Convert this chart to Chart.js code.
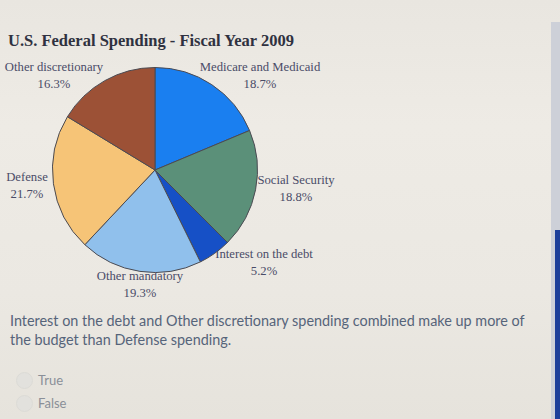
<!DOCTYPE html>
<html>
<head>
<meta charset="utf-8">
<script src="https://cdn.jsdelivr.net/npm/chart.js@4"></script>
<style>
  html, body { margin: 0; padding: 0; }
  body {
    width: 560px; height: 419px; overflow: hidden; position: relative;
    background: linear-gradient(180deg, #e9e6e0 0%, #eeebe5 30%, #ebe8e2 70%, #e6e3dc 100%);
    font-family: "Liberation Serif", serif;
  }
  #title {
    position: absolute; left: 8px; top: 31px;
    font-size: 16.5px; font-weight: bold; color: #2f3140; white-space: nowrap;
  }
  .lbl {
    position: absolute; font-size: 12.7px; line-height: 17px; color: #4a4c68;
    text-align: center; white-space: nowrap; transform: translateX(-50%);
  }
  #chartBox { position: absolute; left: 50px; top: 65px; width: 210px; height: 210px; }
  #question {
    position: absolute; left: 10px; top: 311px; width: 516px;
    font-family: Lato, sans-serif; font-size: 14.4px; line-height: 19px; color: #56647a;
  }
  .opt {
    position: absolute; left: 38px; font-family: Lato, sans-serif; font-size: 13px; color: #8a8f98;
  }
  .radio {
    position: absolute; left: 16px; width: 15px; height: 15px; border-radius: 50%;
    background: #e2e1dd; border: 1px solid #dcdbd6;
  }
  #edge { position: absolute; right: 0; top: 22px; width: 9px; height: 397px; background: #cdd0d8; }
  #edgeDark { position: absolute; right: 0; top: 230px; width: 5px; height: 189px; background: #1d3f9a; }
</style>
</head>
<body>
<div id="title">U.S. Federal Spending - Fiscal Year 2009</div>

<div class="lbl" style="left:54px; top:59px;">Other discretionary<br>16.3%</div>
<div class="lbl" style="left:260px; top:59px;">Medicare and Medicaid<br>18.7%</div>
<div class="lbl" style="left:27px; top:169px;">Defense<br>21.7%</div>
<div class="lbl" style="left:296px; top:172px;">Social Security<br>18.8%</div>
<div class="lbl" style="left:264px; top:246px;">Interest on the debt<br>5.2%</div>
<div class="lbl" style="left:140px; top:268px;">Other mandatory<br>19.3%</div>

<div id="chartBox"><canvas id="pie"></canvas></div>

<div id="question">Interest on the debt and Other discretionary spending combined make up more of the budget than Defense spending.</div>
<div class="radio" style="top:372px;"></div>
<div class="opt" style="top:372px;">True</div>
<div class="radio" style="top:395px;"></div>
<div class="opt" style="top:395px;">False</div>

<div id="edge"></div>
<div id="edgeDark"></div>

<script>
// Data (clockwise from 12 o'clock)
const categories = ['Medicare and Medicaid', 'Social Security', 'Interest on the debt', 'Other mandatory', 'Defense', 'Other discretionary'];
const shares = [18.7, 18.8, 5.2, 19.3, 21.7, 16.3];
const sliceColors = ['#1a7ff0', '#5b9079', '#1650c6', '#90c0ec', '#f6c477', '#9c5136'];

const ctx = document.getElementById('pie').getContext('2d');
new Chart(ctx, {
  type: 'pie',
  data: {
    labels: categories,
    datasets: [{
      data: shares,
      backgroundColor: sliceColors,
      borderColor: '#4a4a52',
      borderWidth: 1
    }]
  },
  options: {
    responsive: true,
    maintainAspectRatio: false,
    animation: false,
    layout: { padding: 2 },
    plugins: {
      legend: { display: false },
      tooltip: { enabled: false }
    }
  }
});
</script>
</body>
</html>
